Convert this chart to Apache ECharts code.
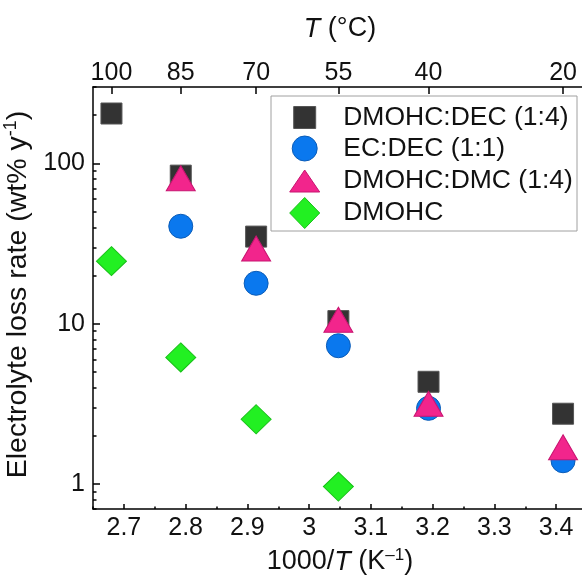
<!DOCTYPE html>
<html>
<head>
<meta charset="utf-8">
<script src="https://cdn.jsdelivr.net/npm/echarts@6/dist/echarts.min.js"></script>
<style>
  html, body { margin: 0; padding: 0; background: #ffffff; }
  #chart { width: 582px; height: 584px; }
</style>
</head>
<body>
<div id="chart"></div>
<script>
// ---------- data ----------
const tempsC = [100, 85, 70, 55, 40, 20];                 // temperatures (°C)
const seriesNames = ['DMOHC:DEC (1:4)', 'EC:DEC (1:1)', 'DMOHC:DMC (1:4)', 'DMOHC'];
const dmohcDec = [205, 84, 35, 10.4, 4.35, 2.75];         // wt% / y
const ecDec = [null, 40.6, 17.9, 7.3, 2.97, 1.4];
const dmohcDmc = [null, 81, 29.5, 10.6, 3.17, 1.7];
const dmohc = [24.6, 6.17, 2.54, 0.966, null, null];
const xTickLabels = [2.7, 2.8, 2.9, 3.0, 3.1, 3.2, 3.3, 3.4];
const xMinorTicks = [2.65, 2.75, 2.85, 2.95, 3.05, 3.15, 3.25, 3.35, 3.45];
const yTickLabels = [1, 10, 100];
const yMinorTicks = [0.7, 0.8, 0.9, 2, 3, 4, 5, 6, 7, 8, 9, 20, 30, 40, 50, 60, 70, 80, 90, 200, 300];

// ---------- derived ----------
const invT = tempsC.map(t => 1000 / (t + 273.15));
function pts(vals) {
  const out = [];
  vals.forEach((v, i) => { if (v != null) out.push([invT[i], v]); });
  return out;
}
const FONT = "'Liberation Sans', Arial, Helvetica, sans-serif";
const X_MIN = 2.65, X_MAX = 3.45, Y_MIN = 0.7, Y_MAX = 300;
const LY_MIN = Math.log10(Y_MIN), LY_MAX = Math.log10(Y_MAX);

const styles = [
  { symbol: 'rect', size: 21, color: '#333333', border: '#555555', lw: 22, lh: 22, cy: 115 },
  { symbol: 'circle', size: 24, color: '#0a78ee', border: '#0a5cb8', lw: 25, lh: 25, cy: 147.5 },
  { symbol: 'triangle', size: [29, 25], color: '#f2258c', border: '#c81470', lw: 30, lh: 22, cy: 178.5 },
  { symbol: 'diamond', size: [30, 29], color: '#22f022', border: '#18c018', lw: 30, lh: 31, cy: 212.5 }
];
const dataSets = [dmohcDec, ecDec, dmohcDmc, dmohc];

const series = dataSets.map((d, i) => ({
  name: seriesNames[i],
  type: 'scatter',
  xAxisIndex: 0,
  yAxisIndex: 0,
  symbol: styles[i].symbol,
  symbolSize: styles[i].size,
  symbolKeepAspect: false,
  itemStyle: { color: styles[i].color, borderColor: styles[i].border, borderWidth: 1, opacity: 1 },
  z: 2 + i,
  data: pts(d)
}));

const LEG_CX = 304.2, LEG_TEXT_X = 342.7;
const legends = styles.map((s, i) => ({
  show: true,
  data: [{ name: seriesNames[i], icon: s.symbol }],
  left: LEG_CX - s.lw / 2,
  top: s.cy - s.lh / 2,
  padding: 0,
  itemWidth: s.lw,
  itemHeight: s.lh,
  symbolKeepAspect: false,
  selectedMode: false,
  itemStyle: { borderColor: s.border, borderWidth: 1 },
  textStyle: {
    fontFamily: FONT, fontSize: 26.5, color: '#111',
    lineHeight: s.lh,
    padding: [0, 0, 0, LEG_TEXT_X - LEG_CX - s.lw / 2 - 5]
  }
}));

const axisLineStyle = { color: '#000', width: 1.5 };
const labelStyle = { fontFamily: FONT, fontSize: 25, color: '#111' };

const option = {
  animation: false,
  backgroundColor: '#ffffff',
  grid: { left: 93, top: 87, right: -5, bottom: 75, containLabel: false, outerBoundsMode: 'none' },
  graphic: [{
    type: 'rect', z: 1,
    shape: { x: 271, y: 96, width: 306, height: 135 },
    style: { fill: '#ffffff', stroke: '#a0a0a0', lineWidth: 1 }
  }],
  legend: legends,
  xAxis: [
    {
      type: 'value', position: 'bottom', min: X_MIN, max: X_MAX,
      axisLine: { show: true, onZero: false, lineStyle: axisLineStyle },
      axisTick: { show: true, inside: true, length: 5, customValues: xTickLabels, lineStyle: { color: '#000', width: 1.5 } },
      axisLabel: { show: true, customValues: xTickLabels, margin: 7, ...labelStyle },
      splitLine: { show: false },
      name: '{a|1000/}{i|T}{a| (K}{s|–1}{a|)}',
      nameLocation: 'middle', nameGap: 38,
      nameTextStyle: {
        rich: {
          a: { fontFamily: FONT, fontSize: 27, color: '#111', lineHeight: 30 },
          i: { fontFamily: FONT, fontSize: 27, fontStyle: 'italic', color: '#111', lineHeight: 30 },
          s: { fontFamily: FONT, fontSize: 17, color: '#111', lineHeight: 17, verticalAlign: 'top' }
        }
      }
    },
    {
      type: 'value', position: 'top', min: X_MIN, max: X_MAX,
      axisLine: { show: true, onZero: false, lineStyle: axisLineStyle },
      axisTick: { show: true, inside: true, length: 7, customValues: invT, lineStyle: { color: '#000', width: 1.5 } },
      axisLabel: {
        show: true, customValues: invT, margin: 1, ...labelStyle,
        formatter: v => String(Math.round(1000 / v - 273.15))
      },
      splitLine: { show: false },
      name: '{i|T}{a| (°C)}',
      nameLocation: 'middle', nameGap: 43,
      nameTextStyle: {
        rich: {
          a: { fontFamily: FONT, fontSize: 27, color: '#111', lineHeight: 30 },
          i: { fontFamily: FONT, fontSize: 27, fontStyle: 'italic', color: '#111', lineHeight: 30 }
        }
      }
    },
    {
      type: 'value', position: 'bottom', min: X_MIN, max: X_MAX,
      axisLine: { show: false, onZero: false },
      axisTick: { show: true, inside: true, length: 2.5, customValues: xMinorTicks, lineStyle: { color: '#000', width: 1.5 } },
      axisLabel: { show: false },
      splitLine: { show: false }
    }
  ],
  yAxis: [
    {
      type: 'log', position: 'left', min: Y_MIN, max: Y_MAX, logBase: 10,
      axisLine: { show: true, onZero: false, lineStyle: axisLineStyle },
      axisTick: { show: false },
      axisLabel: { show: false },
      splitLine: { show: false },
      minorTick: { show: false }
    },
    {
      type: 'value', position: 'left', min: LY_MIN, max: LY_MAX,
      axisLine: { show: false, onZero: false },
      axisTick: { show: true, inside: true, length: 7, customValues: yTickLabels.map(v => Math.log10(v)), lineStyle: { color: '#000', width: 1.5 } },
      axisLabel: {
        show: true, customValues: yTickLabels.map(v => Math.log10(v)), margin: 8, ...labelStyle,
        formatter: v => String(Math.round(Math.pow(10, v)))
      },
      splitLine: { show: false },
      name: '{a|Electrolyte loss rate (wt% y}{s|-1}{a|)}',
      nameLocation: 'middle', nameGap: 51, nameRotate: 90,
      nameTextStyle: {
        padding: [0, 0, 0, 7],
        rich: {
          a: { fontFamily: FONT, fontSize: 28.5, color: '#111', lineHeight: 32 },
          s: { fontFamily: FONT, fontSize: 18, color: '#111', lineHeight: 18, verticalAlign: 'top' }
        }
      }
    },
    {
      type: 'value', position: 'left', min: LY_MIN, max: LY_MAX,
      axisLine: { show: false, onZero: false },
      axisTick: { show: true, inside: true, length: 3.5, customValues: yMinorTicks.map(v => Math.log10(v)), lineStyle: { color: '#000', width: 1.5 } },
      axisLabel: { show: false },
      splitLine: { show: false }
    }
  ],
  series: series
};

const chart = echarts.init(document.getElementById('chart'), null, { renderer: 'canvas' });
chart.setOption(option);
</script>
</body>
</html>
